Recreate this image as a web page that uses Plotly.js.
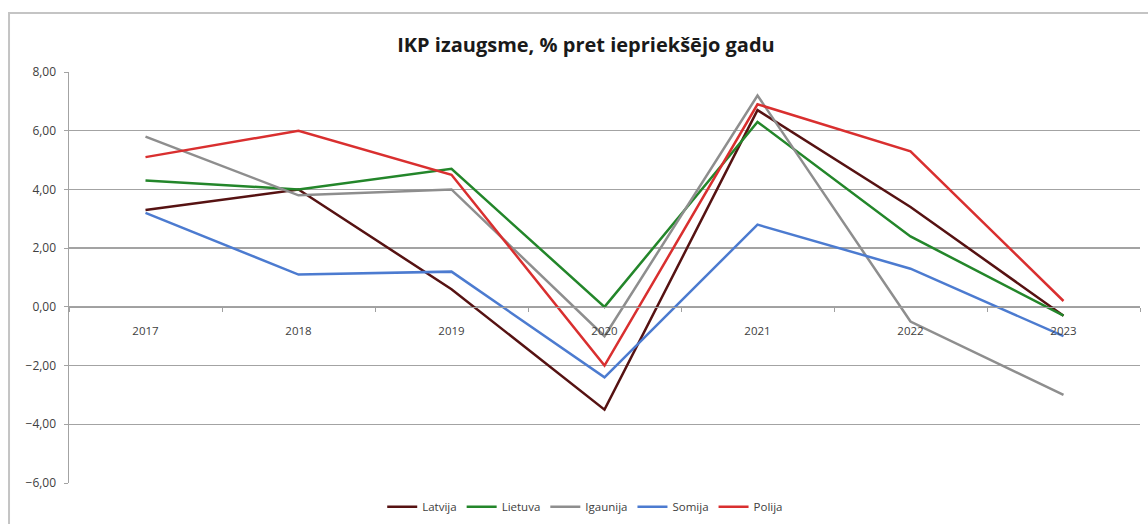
<!DOCTYPE html>
<html>
<head>
<meta charset="utf-8">
<script src="https://cdn.plot.ly/plotly-3.0.1.min.js"></script>
<style>
html,body{margin:0;padding:0;background:#fff;overflow:hidden;}
#chart{width:1148px;height:524px;}
</style>
</head>
<body>
<div id="chart"></div>
<script>
const years = ["2017","2018","2019","2020","2021","2022","2023"];
const latvija  = [3.3, 4.0, 0.6, -3.5, 6.7, 3.4, -0.3];
const lietuva  = [4.3, 4.0, 4.7, 0.0, 6.3, 2.4, -0.3];
const igaunija = [5.8, 3.8, 4.0, -1.0, 7.2, -0.5, -3.0];
const somija   = [3.2, 1.1, 1.2, -2.4, 2.8, 1.3, -1.0];
const polija   = [5.1, 6.0, 4.5, -2.0, 6.9, 5.3, 0.2];
const seriesNames = ["Latvija","Lietuva","Igaunija","Somija","Polija"];
const seriesValues = [latvija, lietuva, igaunija, somija, polija];
const seriesColors = ["#561212","#23862a","#8e8e8e","#4c7bd0","#d92f2f"];
const yTicks = [-6,-4,-2,0,2,4,6,8];

const traces = seriesNames.map((n,i)=>({
  type:"scatter", mode:"lines", name:n, x:years, y:seriesValues[i],
  line:{color:seriesColors[i], width:2.5}
}));

const FONT = "'Open Sans', 'Noto Sans', sans-serif";
const layout = {
  width:1148, height:524,
  margin:{l:69, r:8, t:72, b:41, autoexpand:false},
  paper_bgcolor:"#fff", plot_bgcolor:"#fff",
  separators:",.",
  font:{family:FONT, size:11, color:"#404040"},
  title:{text:"<b>IKP izaugsme, % pret iepriekšējo gadu</b>", x:0.4827, xref:"paper", xanchor:"center", y:0.915, yanchor:"middle",
         font:{size:20, color:"#1a1a1a", family:FONT}},
  xaxis:{type:"category", anchor:"free", position:6/14, tickson:"boundaries", automargin:false,
         ticks:"outside", ticklen:4, tickcolor:"#a0a0a0", showline:true, linecolor:"#a0a0a0", linewidth:1.5,
         ticklabelstandoff:13,
         showgrid:false, zeroline:false, tickfont:{size:11.5, color:"#404040"}, range:[-0.5,6.5]},
  yaxis:{range:[-6,8], tickvals:yTicks, tickformat:".2f", showgrid:true, gridcolor:"#a3a3a3", gridwidth:1.5,
         automargin:false,
         zeroline:false, showline:true, linecolor:"#a3a3a3", linewidth:1.5, ticks:"outside", ticklen:4,
         ticklabelstandoff:5,
         tickcolor:"#a3a3a3", tickfont:{size:12, color:"#404040"}},
  showlegend:true,
  legend:{orientation:"h", x:0.482, xanchor:"center", y:-0.058, yanchor:"middle", itemwidth:30,
          font:{size:11.5, color:"#404040"}, bgcolor:"rgba(0,0,0,0)"},
  shapes:[
    {type:"path", xref:"paper", yref:"paper", path:"M -0.056,-0.11 L -0.056,1.1436 L 1.0075,1.1436",
     line:{color:"#c4c4c4", width:2}}
  ]
};

Plotly.newPlot("chart", traces, layout, {displayModeBar:false, staticPlot:true});
</script>
</body>
</html>
